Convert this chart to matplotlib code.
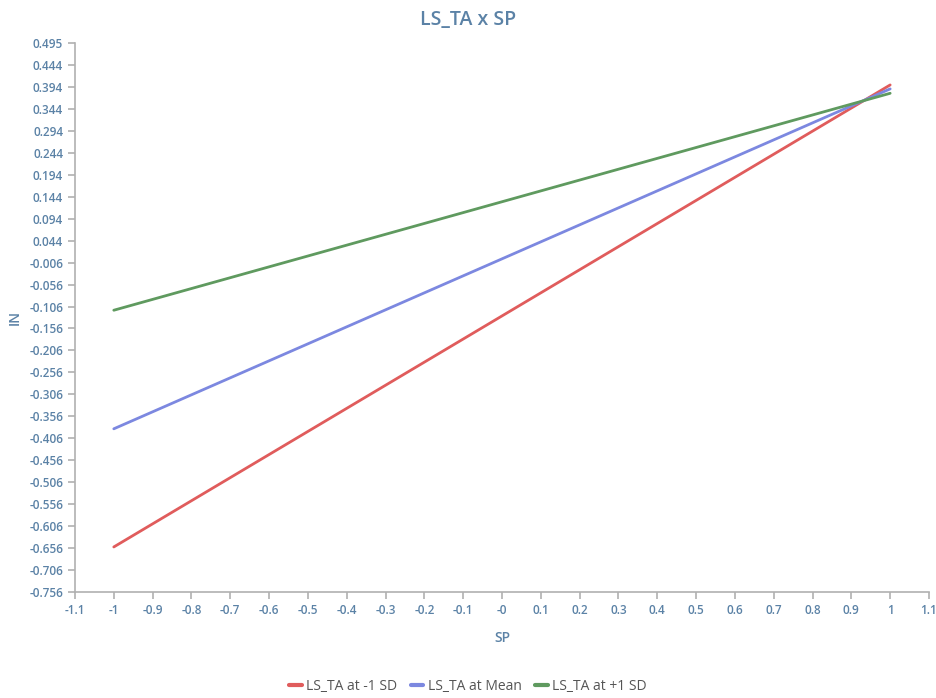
import numpy as np
import matplotlib
matplotlib.use("Agg")
import matplotlib.pyplot as plt

plt.rcParams['font.family'] = ['Open Sans', 'DejaVu Sans']

sp = [-1, 1]
series_names = ["LS_TA at -1 SD", "LS_TA at Mean", "LS_TA at +1 SD"]
low_sd = [-0.653, 0.399]
mean_vals = [-0.384, 0.390]
high_sd = [-0.114, 0.380]
colors = ["#e05c5c", "#7c88e0", "#5f9a5f"]

xticks = [round(-1.1 + 0.1 * i, 1) for i in range(23)]
xticklabels = ["-1.1", "-1", "-0.9", "-0.8", "-0.7", "-0.6", "-0.5", "-0.4", "-0.3",
               "-0.2", "-0.1", "-0", "0.1", "0.2", "0.3", "0.4", "0.5", "0.6", "0.7",
               "0.8", "0.9", "1", "1.1"]
y_min, y_max, y_step = -0.7555, 0.4945, 0.05
yticks = [y_min + y_step * i for i in range(26)]
yticklabels = ["-0.756", "-0.706", "-0.656", "-0.606", "-0.556", "-0.506", "-0.456",
               "-0.406", "-0.356", "-0.306", "-0.256", "-0.206", "-0.156", "-0.106",
               "-0.056", "-0.006", "0.044", "0.094", "0.144", "0.194", "0.244",
               "0.294", "0.344", "0.394", "0.444", "0.495"]

text_color = "#5b82a6"
axis_color = "#b0b0b0"

fig = plt.figure(figsize=(9.36, 6.98), dpi=100)
ax = fig.add_axes([0.0801, 0.1519, 0.9124, 0.7865])

for vals, name, c in zip([low_sd, mean_vals, high_sd], series_names, colors):
    ax.plot(sp, vals, color=c, lw=2.0, label=name, solid_capstyle='round')

ax.set_xlim(-1.1, 1.1)
ax.set_ylim(y_min, y_max)
ax.set_xticks(xticks)
ax.set_xticklabels(xticklabels)
ax.set_yticks(yticks)
ax.set_yticklabels(yticklabels)

for s in ["top", "right"]:
    ax.spines[s].set_visible(False)
for s in ["left", "bottom"]:
    ax.spines[s].set_color(axis_color)
    ax.spines[s].set_linewidth(1.2)
ax.tick_params(axis='both', colors=axis_color, labelcolor=text_color,
               labelsize=8.5, length=5, width=1.2)
for lbl in ax.get_xticklabels() + ax.get_yticklabels():
    lbl.set_fontweight('semibold')

ax.set_xlabel("SP", color=text_color, fontsize=10, fontweight='semibold', labelpad=10)
ax.set_ylabel("IN", color=text_color, fontsize=10, fontweight='semibold', labelpad=5)
fig.text(0.5, 0.972, "LS_TA x SP", ha='center', va='center', color=text_color,
         fontsize=14, fontweight='semibold')

leg = fig.legend(loc='center', bbox_to_anchor=(0.5, 0.016), ncol=3, frameon=False,
                 fontsize=10, handlelength=0.9, handletextpad=0.3, columnspacing=1.0)
for h in leg.legend_handles:
    h.set_linewidth(3)
for t in leg.get_texts():
    t.set_color("#555555")

fig.savefig("out.png", dpi=100)
